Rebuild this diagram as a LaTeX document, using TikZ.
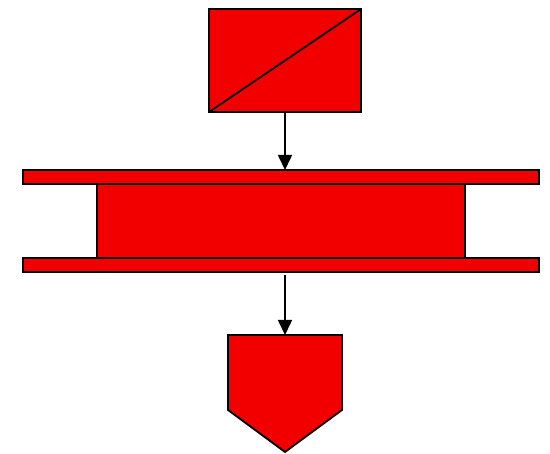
\documentclass[tikz,border=0pt]{standalone}
\usetikzlibrary{arrows.meta}
\definecolor{blockred}{RGB}{242,0,0}
\tikzset{
  block/.style={draw, fill=blockred, line width=1.8pt, inner sep=0pt, outer sep=0pt},
  flow/.style={-{Triangle[length=15pt,width=14pt]}, line width=1.6pt}
}
\begin{document}
\begin{tikzpicture}[x=1pt, y=-1pt]
  \useasboundingbox (0,0) rectangle (550,454);
  % converter block
  \node[block, minimum width=152pt, minimum height=103pt] (conv) at (285,60.5) {};
  \draw[line width=1.8pt] (conv.south west) -- (conv.north east);
  % plates and core
  \node[block, minimum width=368pt, minimum height=74pt] (core) at (281,221) {};
  \node[block, minimum width=516pt, minimum height=14pt] (plateup) at (281,177) {};
  \node[block, minimum width=516pt, minimum height=14pt] (platedown) at (281,265) {};
  % output marker
  \draw[block] (228,335) -- (342,335) -- (342,410) -- (285,452) -- (228,410) -- cycle;
  \coordinate (outtop) at (285,335);
  % connections
  \draw[flow] (conv.south -| 285,0) -- (plateup.north -| 285,0);
  \draw[flow, shorten <=3pt] (platedown.south -| 285,0) -- (outtop);
\end{tikzpicture}
\end{document}
